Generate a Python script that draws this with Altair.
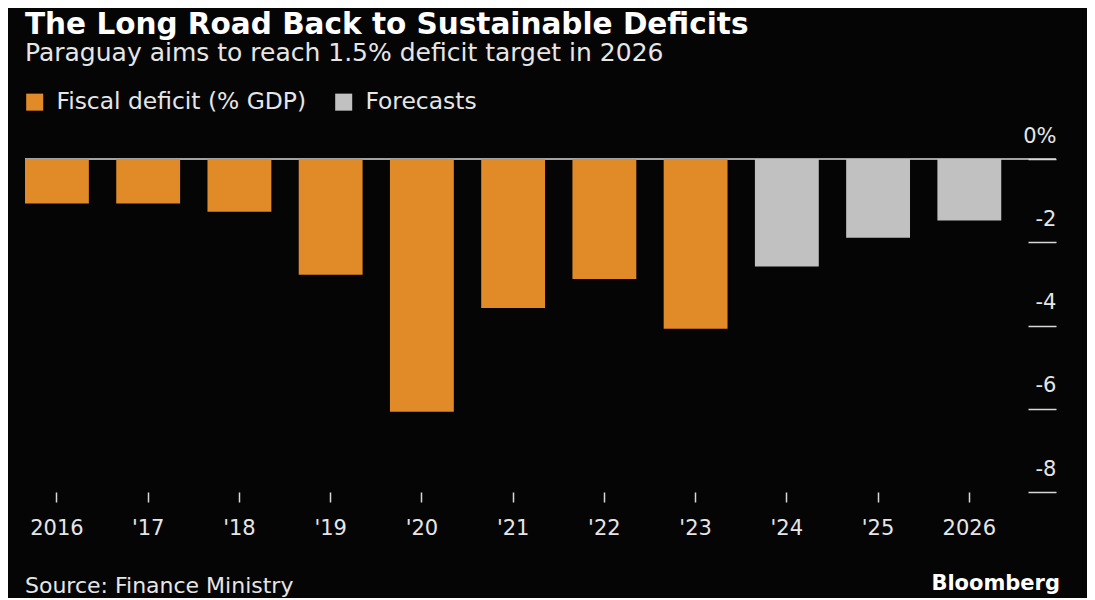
import altair as alt
import pandas as pd

years = ["2016", "'17", "'18", "'19", "'20", "'21", "'22", "'23", "'24", "'25", "2026"]
deficit = [-1.07, -1.07, -1.27, -2.78, -6.07, -3.58, -2.88, -4.08, -2.58, -1.89, -1.48]
series = ["Fiscal deficit (% GDP)"] * 8 + ["Forecasts"] * 3
y_ticks = [0, -2, -4, -6, -8]

df = pd.DataFrame({"year": years, "value": deficit, "series": series})

FONT = "DejaVu Sans"
W, H = 1031, 333

bars = alt.Chart(df).mark_bar().encode(
    x=alt.X("year:N", sort=years,
            scale=alt.Scale(paddingInner=0.3, paddingOuter=0.3, align=0),
            axis=alt.Axis(title=None, labelAngle=0, domain=False, ticks=True,
                          tickSize=10, tickColor="#d8d8d8", tickWidth=1.5,
                          labelPadding=15, labelFontSize=21, labelColor="#e6e6e6",
                          labelFont=FONT)),
    y=alt.Y("value:Q", scale=alt.Scale(domain=[-8, 0], nice=False),
            axis=alt.Axis(title=None, orient="right", values=y_ticks, domain=False,
                          grid=False, tickSize=28, offset=-28, tickColor="#d8d8d8",
                          tickWidth=1.5, labelAlign="right", labelBaseline="bottom",
                          labelPadding=0, labelOffset=-13, labelFontSize=21,
                          labelColor="#e6e6e6", labelFont=FONT,
                          labelExpr="datum.value == 0 ? '0%' : '-' + abs(datum.value)")),
    color=alt.Color("series:N",
                    scale=alt.Scale(domain=["Fiscal deficit (% GDP)", "Forecasts"],
                                    range=["#E08A28", "#C2C1C2"]),
                    legend=alt.Legend(title=None, orient="none", legendX=-2, legendY=-69,
                                      direction="horizontal", symbolType="square",
                                      symbolSize=290, symbolStrokeWidth=0,
                                      labelFontSize=23.4, labelColor="#e6e6e6",
                                      labelFont=FONT, columnPadding=25, labelLimit=0,
                                      symbolOffset=0, labelOffset=10)),
)

zero = alt.Chart(pd.DataFrame({"y": [0]})).mark_rule(color="#d8d8d8", strokeWidth=1.5).encode(
    y=alt.Y("y:Q", scale=alt.Scale(domain=[-8, 0], nice=False))
)

source = alt.Chart(pd.DataFrame({"t": ["Source: Finance Ministry"]})).mark_text(
    align="left", baseline="middle", fontSize=22, color="#e6e6e6", font=FONT
).encode(x=alt.value(0), y=alt.value(H + 94), text="t:N")

brand = alt.Chart(pd.DataFrame({"t": ["Bloomberg"]})).mark_text(
    align="right", baseline="middle", fontSize=21, fontWeight="bold", color="#ffffff", font=FONT
).encode(x=alt.value(W + 4), y=alt.value(H + 92), text="t:N")

chart = alt.layer(zero, bars, source, brand).properties(
    width=W, height=H,
    title=alt.TitleParams(
        text="The Long Road Back to Sustainable Deficits",
        subtitle="Paraguay aims to reach 1.5% deficit target in 2026",
        anchor="start", frame="group", offset=23,
        font=FONT, fontSize=29.5, fontWeight="bold", color="#ffffff",
        subtitleFont=FONT, subtitleFontSize=25, subtitleColor="#e6e6e6",
        subtitlePadding=1,
    ),
    padding={"left": 17, "top": 151, "right": 31, "bottom": 106},
    autosize=alt.AutoSizeParams(type="none"),
    background="#050505",
).configure_view(stroke=None)

chart.save("out.html", embed_options={"renderer": "svg", "actions": False})
